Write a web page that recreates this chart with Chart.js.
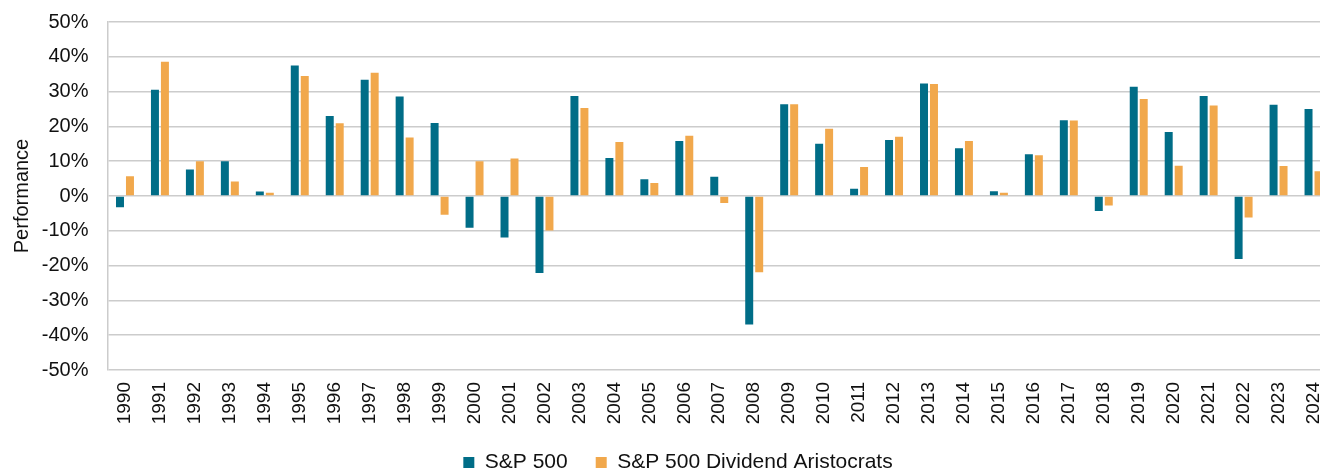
<!DOCTYPE html>
<html>
<head>
<meta charset="utf-8">
<script src="https://cdn.jsdelivr.net/npm/chart.js@4"></script>
<style>
    html, body { margin: 0; padding: 0; background: #fff; overflow: hidden; }
    #wrap { width: 1356px; height: 483px; }
</style>
</head>
<body>
<div id="wrap"><canvas id="graficoRendimiento" width="1356" height="483"></canvas></div>
<script>
const years = ['1990','1991','1992','1993','1994','1995','1996','1997','1998','1999',
    '2000','2001','2002','2003','2004','2005','2006','2007','2008','2009',
    '2010','2011','2012','2013','2014','2015','2016','2017','2018','2019',
    '2020','2021','2022','2023','2024'];
const sp500 = [-3.2, 30.5, 7.6, 10.0, 1.3, 37.5, 23.0, 33.4, 28.6, 21.0,
    -9.1, -11.9, -22.1, 28.7, 10.9, 4.8, 15.8, 5.5, -36.9, 26.4,
    15.0, 2.1, 16.1, 32.3, 13.7, 1.4, 12.0, 21.8, -4.3, 31.4,
    18.4, 28.7, -18.1, 26.2, 25.0];
const aristocrats = [5.7, 38.6, 10.0, 4.2, 0.9, 34.5, 20.9, 35.4, 16.8, -5.4,
    10.0, 10.8, -9.9, 25.3, 15.5, 3.7, 17.3, -2.0, -21.9, 26.4,
    19.3, 8.3, 17.0, 32.2, 15.8, 0.9, 11.7, 21.7, -2.7, 27.9,
    8.7, 26.0, -6.2, 8.6, 7.1];
const seriesNames = ['S&P 500', 'S&P 500 Dividend Aristocrats'];
const yTicks = [-50, -40, -30, -20, -10, 0, 10, 20, 30, 40, 50];

const fontFam = '"Liberation Sans", Arial, sans-serif';

const ctx = document.getElementById('graficoRendimiento').getContext('2d');
new Chart(ctx, {
    type: 'bar',
    data: {
        labels: years,
        datasets: [{
            label: seriesNames[0],
            data: sp500,
            backgroundColor: '#006d87',
            barPercentage: 0.8,
            categoryPercentage: 0.571
        }, {
            label: seriesNames[1],
            data: aristocrats,
            backgroundColor: '#f1a84c',
            barPercentage: 0.8,
            categoryPercentage: 0.571
        }]
    },
    options: {
        responsive: false,
        animation: false,
        layout: { padding: { top: 22, right: 0, bottom: 0, left: 0 } },
        plugins: {
            tooltip: { enabled: false },
            legend: {
                position: 'bottom',
                labels: {
                    boxWidth: 11,
                    boxHeight: 11,
                    padding: 28,
                    color: '#111',
                    font: { family: fontFam, size: 21 }
                }
            }
        },
        scales: {
            x: {
                grid: { display: false, drawTicks: false },
                border: { display: false },
                ticks: {
                    color: '#111',
                    maxRotation: 90,
                    minRotation: 90,
                    padding: 12,
                    font: { family: fontFam, size: 19 }
                },
                afterFit: (scale) => { scale.height = 54; }
            },
            y: {
                min: -50,
                max: 50,
                afterBuildTicks: (scale) => { scale.ticks = yTicks.map(v => ({ value: v })); },
                grid: { color: '#cccccc', lineWidth: 1.5, drawTicks: false },
                border: { display: true, color: '#cccccc', width: 1.5 },
                ticks: {
                    color: '#111',
                    padding: 19,
                    font: { family: fontFam, size: 20 },
                    callback: (v) => v + '%'
                },
                title: {
                    display: true,
                    text: 'Performance',
                    color: '#111',
                    padding: { top: 10, bottom: 0 },
                    font: { family: fontFam, size: 20 }
                },
                afterFit: (scale) => {
                    scale.width = 107.5;
                    // labels may stick out above/below, the plot should not shrink for them
                    scale.paddingTop = 0;
                    scale.paddingBottom = 0;
                }
            },
            // empty axis on the right, only to leave the gap after the plot
            yRight: {
                position: 'right',
                min: -50,
                max: 50,
                grid: { display: false, drawTicks: false },
                border: { display: false },
                ticks: { display: false },
                afterFit: (scale) => { scale.width = 25; }
            }
        }
    }
});
</script>
</body>
</html>
